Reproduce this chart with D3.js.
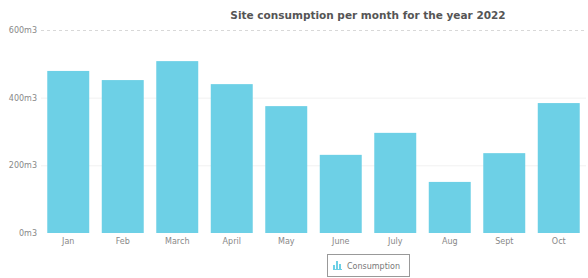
<!DOCTYPE html>
<html>
<head>
<meta charset="utf-8">
<script src="https://cdn.jsdelivr.net/npm/d3@7"></script>
<style>
  body { margin: 0; background: #fff; }
  svg { display: block; font-family: "DejaVu Sans", Verdana, sans-serif; }
</style>
</head>
<body>
<svg id="chart" width="588" height="278"></svg>
<script>
// Data
const months = ['Jan', 'Feb', 'March', 'April', 'May', 'June', 'July', 'Aug', 'Sept', 'Oct'];
const consumption = [479, 452, 508, 440, 375, 231, 296, 151, 236, 384];
const yTicks = [0, 200, 400, 600];

const svg = d3.select('#chart');
const margin = { top: 30, right: 2, bottom: 45, left: 41 };
const width = 588 - margin.left - margin.right;
const height = 278 - margin.top - margin.bottom;

const x = d3.scaleBand()
  .domain(months)
  .range([0, width])
  .paddingInner(0.23)
  .paddingOuter(0.115);

const y = d3.scaleLinear().domain([0, 600]).range([height, 0]);

const g = svg.append('g')
  .attr('transform', `translate(${margin.left},${margin.top})`);

// grid lines
g.selectAll('.grid')
  .data(yTicks.filter((d) => d > 0))
  .enter().append('line')
  .attr('x1', 0)
  .attr('x2', width)
  .attr('y1', (d) => y(d) + 0.5)
  .attr('y2', (d) => y(d) + 0.5)
  .attr('stroke', (d) => (d === 600 ? '#d8d8d8' : '#f1f1f1'))
  .attr('stroke-dasharray', (d) => (d === 600 ? '3,3' : null));

// bars
g.selectAll('.bar')
  .data(months)
  .enter().append('rect')
  .attr('class', 'bar')
  .attr('x', (d) => x(d))
  .attr('width', x.bandwidth())
  .attr('y', (d, i) => y(consumption[i]))
  .attr('height', (d, i) => height - y(consumption[i]))
  .attr('fill', '#6dd0e6');

// y axis
const yAxis = d3.axisLeft(y).tickValues(yTicks).tickSize(0).tickPadding(4)
  .tickFormat((d) => `${d}m3`);
g.append('g').call(yAxis)
  .call((a) => a.select('.domain').remove())
  .selectAll('text')
  .attr('fill', '#888')
  .style('font-size', '8px')
  .style('font-family', '"DejaVu Sans", Verdana, sans-serif');

// x axis
const xAxis = d3.axisBottom(x).tickSize(0).tickPadding(5);
g.append('g')
  .attr('transform', `translate(0,${height})`)
  .call(xAxis)
  .call((a) => a.select('.domain').remove())
  .selectAll('text')
  .attr('fill', '#888')
  .style('font-size', '8px')
  .style('font-family', '"DejaVu Sans", Verdana, sans-serif');

// title
svg.append('text')
  .attr('x', 368)
  .attr('y', 19)
  .attr('text-anchor', 'middle')
  .attr('fill', '#555')
  .style('font-size', '10.5px')
  .style('font-weight', 'bold')
  .text('Site consumption per month for the year 2022');

// legend
const legend = svg.append('g').attr('transform', 'translate(327,254)');
legend.append('rect')
  .attr('x', 0.5).attr('y', 0.5)
  .attr('width', 82).attr('height', 22)
  .attr('fill', '#fff')
  .attr('stroke', '#999');
const icon = legend.append('g').attr('transform', 'translate(6,7)');
[[0, 4, 8], [3, 0, 8], [6, 3, 8]].forEach(([ix, iy, ib]) => {
  icon.append('rect')
    .attr('x', ix).attr('y', iy)
    .attr('width', 2).attr('height', ib - iy)
    .attr('fill', '#6dd0e6');
});
icon.append('line')
  .attr('x1', 0).attr('x2', 9).attr('y1', 8.5).attr('y2', 8.5)
  .attr('stroke', '#6dd0e6');
legend.append('text')
  .attr('x', 20)
  .attr('y', 14.5)
  .attr('fill', '#777')
  .style('font-size', '8px')
  .text('Consumption');
</script>
</body>
</html>
